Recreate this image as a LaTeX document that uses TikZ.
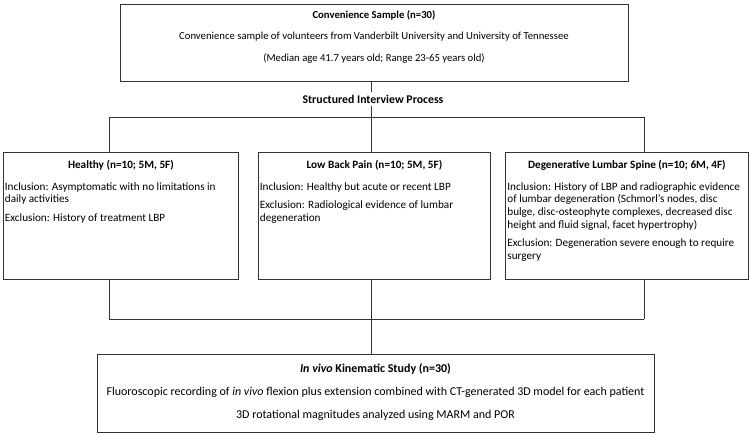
\documentclass[tikz,border=0pt]{standalone}
\usepackage{fontspec}
\setmainfont{Carlito}
\begin{document}
\begin{tikzpicture}[x=1pt,y=-1pt,line width=0.8pt,font=\fontsize{11.2}{12.8}\selectfont]
	\tikzset{box/.style={draw=black!80,rectangle,inner sep=0pt},
		grp/.style={box,minimum height=127pt,anchor=north west},
		ttl/.style={font=\fontsize{11.2}{12.8}\selectfont\bfseries,inner sep=0pt},
		txt/.style={inner sep=0pt},
		para/.style={align=left,anchor=north west,inner sep=0pt}}
	\useasboundingbox (0,0) rectangle (750,434);
	% top box
	\node[box,minimum width=508pt,minimum height=77pt,anchor=north] (sample) at (374,4) {};
	\node[ttl,font=\fontsize{10.7}{12}\selectfont\bfseries] (sample1) at (374,15) {Convenience Sample (n=30)};
	\node[txt,font=\fontsize{10.7}{12}\selectfont] (sample2) at (374,37) {Convenience sample of volunteers from Vanderbilt University and University of Tennessee};
	\node[txt,font=\fontsize{10.7}{12}\selectfont] (sample3) at (374,59) {(Median age 41.7 years old; Range 23-65 years old)};
	\node[ttl,font=\fontsize{11.8}{13}\selectfont\bfseries,inner sep=2pt] (interview) at (373,99) {Structured Interview Process};
	% groups
	\node[grp,minimum width=235pt] (healthy) at (3,152) {};
	\node[grp,minimum width=232pt] (lbp) at (258,152) {};
	\node[grp,minimum width=243pt] (dls) at (505,152) {};
	\node[ttl] (healthyt) at (healthy.north |- 0,165) {Healthy (n=10; 5M, 5F)};
	\node[ttl] (lbpt) at (lbp.north |- 0,165) {Low Back Pain (n=10; 5M, 5F)};
	\node[ttl] (dlst) at (dls.north |- 0,165) {Degenerative Lumbar Spine (n=10; 6M, 4F)};
	\node[para] (healthyp) at (4.5,182) {Inclusion: Asymptomatic with no limitations in\\
		daily activities\\[6pt]
		Exclusion: History of treatment LBP};
	\node[para] (lbpp) at (259.5,182) {Inclusion: Healthy but acute or recent LBP\\[6pt]
		Exclusion: Radiological evidence of lumbar\\
		degeneration};
	\node[para] (dlsp) at (507,182) {Inclusion: History of LBP and radiographic evidence\\
		of lumbar degeneration (Schmorl's nodes, disc\\
		bulge, disc-osteophyte complexes, decreased disc\\
		height and fluid signal, facet hypertrophy)\\[5pt]
		Exclusion: Degeneration severe enough to require\\
		surgery};
	% bottom box
	\node[box,minimum width=557pt,minimum height=78pt,anchor=north] (study) at (375.5,354) {};
	\node[ttl,font=\fontsize{12}{14}\selectfont\bfseries] (study1) at (375.5,369) {\textit{In vivo} Kinematic Study (n=30)};
	\node[txt,font=\fontsize{12}{14}\selectfont] (study2) at (375.5,392) {Fluoroscopic recording of \textit{in vivo} flexion plus extension combined with CT-generated 3D model for each patient};
	\node[txt,font=\fontsize{12}{14}\selectfont] (study3) at (375.5,415) {3D rotational magnitudes analyzed using MARM and POR};
	% connectors
	\coordinate (s1) at (109,117);
	\coordinate (s2) at (371,117);
	\coordinate (s3) at (644,117);
	\coordinate (m1) at (109,319);
	\coordinate (m2) at (371,319);
	\coordinate (m3) at (644,319);
	\draw[black!80] (sample.south -| s2) -- (interview.north -| s2);
	\draw[black!80] (interview.south -| s2) -- (s2);
	\draw[black!80] (s1) -- (s3);
	\draw[black!80] (m1) -- (m3);
	\draw[black!80] (s1) -- (s1 |- healthy.north);
	\draw[black!80] (s2) -- (s2 |- lbp.north);
	\draw[black!80] (s3) -- (s3 |- dls.north);
	\draw[black!80] (m1 |- healthy.south) -- (m1);
	\draw[black!80] (m2 |- lbp.south) -- (m2);
	\draw[black!80] (m3 |- dls.south) -- (m3);
	\draw[black!80] (m2) -- (m2 |- study.north);
\end{tikzpicture}
\end{document}
